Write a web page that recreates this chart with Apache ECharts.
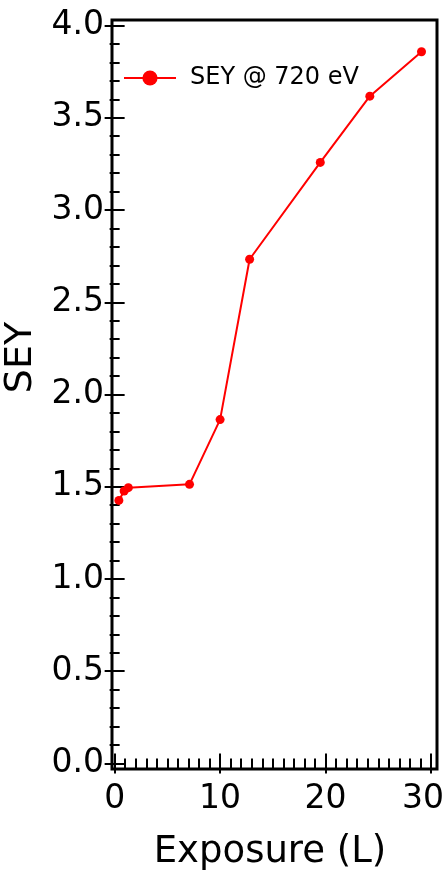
<!DOCTYPE html>
<html>
<head>
<meta charset="utf-8">
<script src="https://cdn.jsdelivr.net/npm/echarts@6/dist/echarts.min.js"></script>
<style>
  html, body { margin: 0; padding: 0; background: #fff; }
  #chart { width: 445px; height: 870px; }
</style>
</head>
<body>
<div id="chart"></div>
<script>
// Secondary electron yield versus gas exposure
const exposure = [0.4, 0.9, 1.3, 7.1, 10.0, 12.8, 19.5, 24.2, 29.1];
const sey = [1.426, 1.477, 1.495, 1.513, 1.864, 2.733, 3.258, 3.617, 3.858];
const xMajorTicks = [0, 10, 20, 30];
const yMajorTicks = [0, 0.5, 1.0, 1.5, 2.0, 2.5, 3.0, 3.5, 4.0];
const seriesName = 'SEY @ 720 eV';

const FONT = 'DejaVu Sans';
const X_MIN = -0.25, X_MAX = 30.57;
const Y_MIN = -0.03, Y_MAX = 4.03;

// minor tick positions (every 1 L and every 0.1 SEY), skipping the majors
const xMinorTicks = [];
for (let i = 1; i < 31; i++) if (i % 10 !== 0) xMinorTicks.push(i);
const yMinorTicks = [];
for (let i = 1; i < 41; i++) if (i % 5 !== 0) yMinorTicks.push(+(i / 10).toFixed(1));

// both grids share one rectangle: grid 0 holds the data and major ticks, grid 1 the minor ticks
const gridRect = { left: 112, right: 8, top: 20, bottom: 101, containLabel: false, outerBoundsMode: 'none' };

const lastX = xMajorTicks[xMajorTicks.length - 1];

function xAxisDef(gridIndex, position, ticks, len, withLabels) {
  return {
    type: 'value', gridIndex, position, min: X_MIN, max: X_MAX,
    axisLine: { show: false },
    splitLine: { show: false },
    axisTick: { show: true, inside: true, length: len, customValues: ticks,
                lineStyle: { color: '#000', width: 2 } },
    axisLabel: withLabels
      ? { show: true, customValues: ticks, margin: 14, fontFamily: FONT, fontSize: 33, color: '#000',
          // keep the rightmost label inside the page edge
          formatter: v => (v === lastX ? '{edge|' + v + '}' : String(v)),
          rich: { edge: { fontFamily: FONT, fontSize: 33, color: '#000', padding: [0, 16, 0, 0] } } }
      : { show: false },
    name: withLabels ? 'Exposure (L)' : '',
    nameLocation: 'middle', nameGap: 65,
    nameTextStyle: { fontFamily: FONT, fontSize: 37, color: '#000', padding: [0, 9, 0, 0] }
  };
}

function yAxisDef(gridIndex, position, ticks, len, withLabels) {
  return {
    type: 'value', gridIndex, position, min: Y_MIN, max: Y_MAX,
    axisLine: { show: false },
    splitLine: { show: false },
    axisTick: { show: true, inside: true, length: len, customValues: ticks,
                lineStyle: { color: '#000', width: 2 } },
    axisLabel: withLabels
      ? { show: true, customValues: ticks, margin: 8, fontFamily: FONT, fontSize: 33, color: '#000',
          formatter: v => v.toFixed(1) }
      : { show: false },
    name: withLabels ? 'SEY' : '',
    nameLocation: 'middle', nameGap: 61,
    nameTextStyle: { fontFamily: FONT, fontSize: 38, color: '#000', padding: [0, 0, 0, 74] }
  };
}

const chart = echarts.init(document.getElementById('chart'), null, { renderer: 'canvas' });
chart.setOption({
  animation: false,
  backgroundColor: '#fff',
  grid: [
    Object.assign({ show: true, borderColor: '#000', borderWidth: 3, backgroundColor: 'transparent' }, gridRect),
    Object.assign({ show: false }, gridRect)
  ],
  xAxis: [
    xAxisDef(0, 'bottom', xMajorTicks, 10, true),
    xAxisDef(0, 'top', xMajorTicks, 10, false),
    xAxisDef(1, 'bottom', xMinorTicks, 5, false),
    xAxisDef(1, 'top', xMinorTicks, 5, false)
  ],
  yAxis: [
    yAxisDef(0, 'left', yMajorTicks, 10, true),
    yAxisDef(0, 'right', yMajorTicks, 10, false),
    yAxisDef(1, 'left', yMinorTicks, 5, false),
    yAxisDef(1, 'right', yMinorTicks, 5, false)
  ],
  legend: {
    left: 123, top: 66, padding: 0,
    itemWidth: 52, itemHeight: 19,
    data: [seriesName],
    textStyle: { fontFamily: FONT, fontSize: 24, color: '#000', padding: [0, 0, 0, 9] }
  },
  series: [{
    name: seriesName,
    type: 'line',
    xAxisIndex: 0, yAxisIndex: 0,
    data: exposure.map((x, i) => [x, sey[i]]),
    symbol: 'circle', symbolSize: 9,
    color: '#ff0000',
    lineStyle: { color: '#ff0000', width: 2 },
    itemStyle: { color: '#ff0000' }
  }]
});
</script>
</body>
</html>
